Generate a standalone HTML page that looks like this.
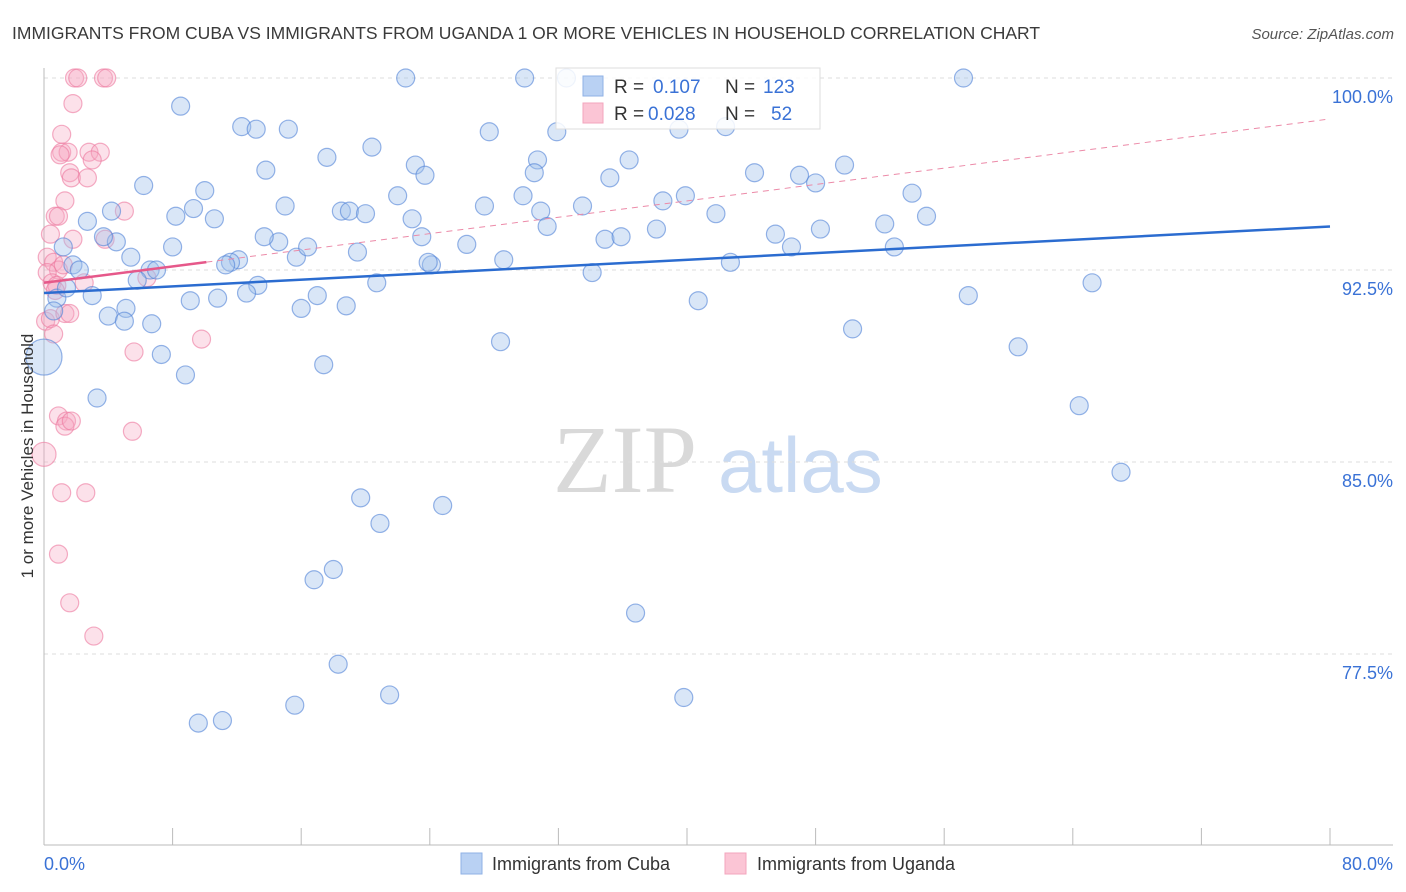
<!DOCTYPE html>
<html><head><meta charset="utf-8">
<style>
body{margin:0;background:#fff;font-family:"Liberation Sans",sans-serif;}
svg{display:block}
</style></head>
<body>
<svg id="chart" width="1406" height="892" xmlns="http://www.w3.org/2000/svg">
<text x="12" y="39" font-size="17.5" fill="#3a3a3a">IMMIGRANTS FROM CUBA VS IMMIGRANTS FROM UGANDA 1 OR MORE VEHICLES IN HOUSEHOLD CORRELATION CHART</text>
<text x="1394" y="39" font-size="15" fill="#555" font-style="italic" text-anchor="end">Source: ZipAtlas.com</text>
<g>
<text x="553" y="492" font-family="Liberation Serif,serif" font-size="96" fill="#d9d9d9">ZIP</text>
<text x="718" y="492" font-size="78" fill="#c9daf2">atlas</text>
</g>
<g id="grid"></g>
<g id="axes"></g>
<g id="pinkpts"></g>
<g id="bluepts"></g>
<g id="lines"></g>
<text transform="translate(33,456) rotate(-90)" font-size="17" fill="#333" text-anchor="middle">1 or more Vehicles in Household</text>
<g>
<rect x="556" y="68" width="264" height="61" fill="#fff" fill-opacity="0.85" stroke="#ddd"/>
<rect x="583" y="76" width="20" height="20" fill="#b9d1f3" stroke="#8fb1e6"/>
<rect x="583" y="103" width="20" height="20" fill="#fbc5d5" stroke="#f3a5bd"/>
<text x="614" y="93" font-size="19" fill="#333">R = </text><text x="653" y="93" font-size="19" fill="#3a72d6">0.107</text>
<text x="725" y="93" font-size="19" fill="#333">N = </text><text x="763" y="93" font-size="19" fill="#3a72d6">123</text>
<text x="614" y="120" font-size="19" fill="#333">R = </text><text x="648" y="120" font-size="19" fill="#3a72d6">0.028</text>
<text x="725" y="120" font-size="19" fill="#333">N = </text><text x="771" y="120" font-size="19" fill="#3a72d6">52</text>
</g>
<g>
<rect x="461" y="853" width="21" height="21" fill="#b9d1f3" stroke="#8fb1e6"/>
<text x="492" y="870" font-size="18" fill="#333">Immigrants from Cuba</text>
<rect x="725" y="853" width="21" height="21" fill="#fbc5d5" stroke="#f3a5bd"/>
<text x="757" y="870" font-size="18" fill="#333">Immigrants from Uganda</text>
</g>
</svg>
<script>
const yTicks=[100,92.5,85,77.5];
const yTickLabels=["100.0%","92.5%","85.0%","77.5%"];
const xTickLabels=["0.0%","80.0%"];
const blueX=[8.5,12.3,13.2,15.2,22.5,29.9,32.5,57.2,27.7,31.9,39.5,42.4,20.4,17.6,23.1,23.7,30.7,30.5,36.4,35.2,44.2,47.0,49.8,48.0,13.8,6.2,10.0,9.3,8.2,10.6,4.2,2.7,15.0,18.5,19.0,20.0,22.0,22.9,27.4,29.8,30.9,31.3,33.5,38.5,39.9,41.8,54.0,54.9,52.3,48.3,45.5,46.5,52.9,38.1,34.9,35.9,26.3,23.5,19.5,15.7,16.4,14.6,13.7,12.1,11.6,11.3,8.0,4.5,3.7,1.2,1.8,2.2,5.4,6.6,7.0,5.8,13.3,28.6,34.1,24.1,23.9,42.7,20.7,17.0,16.0,18.8,12.6,10.8,9.1,5.1,4.0,5.0,6.7,3.0,0.8,1.4,0.6,28.4,50.3,57.5,65.2,40.7,17.4,7.3,8.8,60.6,3.3,64.4,67.0,19.7,24.8,20.9,18.0,16.8,36.8,18.3,21.5,39.8,15.6,11.1,9.6,0.0];
const blueY=[98.9,98.1,98.0,98.0,100,100,100,100,97.9,97.9,98.0,98.1,97.3,96.9,96.6,96.2,96.8,96.3,96.8,96.1,96.3,96.2,96.6,95.9,96.4,95.8,95.6,94.9,94.6,94.5,94.8,94.4,95.0,94.8,94.8,94.7,95.4,94.5,95.0,95.4,94.8,94.2,95.0,95.2,95.4,94.7,95.5,94.6,94.3,94.1,93.9,93.4,93.4,94.1,93.7,93.8,93.5,93.8,93.2,93.0,93.4,93.6,93.8,92.9,92.8,92.7,93.4,93.6,93.8,93.4,92.7,92.5,93.0,92.5,92.5,92.1,91.9,92.9,92.4,92.7,92.8,92.8,92.0,91.5,91.0,91.1,91.6,91.4,91.3,91.0,90.7,90.5,90.4,91.5,91.4,91.8,90.9,89.7,90.2,91.5,92.0,91.3,88.8,89.2,88.4,89.5,87.5,87.2,84.6,83.6,83.3,82.6,80.8,80.4,79.1,77.1,75.9,75.8,75.5,74.9,74.8,89.1];
const blueSize=blueX.map((v,i)=>i===blueX.length-1?18:9);
const pinkX=[1.9,2.1,3.7,3.9,1.8,1.1,1.1,1.5,1.0,2.8,3.5,3.0,1.6,1.7,2.7,1.3,0.7,0.9,5.0,0.4,1.8,3.8,0.2,0.6,0.9,0.2,1.2,0.5,0.8,2.5,6.4,0.7,0.1,0.4,1.3,1.6,0.6,5.6,9.8,0.9,1.4,1.3,1.7,5.5,0.0,1.1,2.6,0.9,1.6,3.1];
const pinkY=[100,100,100,100,99.0,97.8,97.1,97.1,97.0,97.1,97.1,96.8,96.3,96.1,96.1,95.2,94.6,94.6,94.8,93.9,93.7,93.7,93.0,92.8,92.5,92.4,92.7,92.0,91.9,92.0,92.2,91.7,90.5,90.6,90.8,90.8,90.0,89.3,89.8,86.8,86.6,86.4,86.6,86.2,85.3,83.8,83.8,81.4,79.5,78.2];
const pinkSize=pinkX.map((v,i)=>i===44?12:9);
const blueTrend=[91.6,94.2];
const pinkTrend=[92.0,98.4];
const pinkSolidEnd=10.1;

const NS="http://www.w3.org/2000/svg";
const X0=44,X1=1330,Y100=78,PXPER=192/7.5;
const xs=v=>X0+v/80*(X1-X0);
const ys=v=>Y100+(100-v)*PXPER;
function mk(tag,attrs,parent){const e=document.createElementNS(NS,tag);for(const k in attrs)e.setAttribute(k,attrs[k]);parent.appendChild(e);return e;}
const grid=document.getElementById('grid'),axes=document.getElementById('axes');
yTicks.forEach((t,i)=>{
 const l=mk('line',{x1:X0,x2:1393,y1:ys(t),y2:ys(t),stroke:'#ddd','stroke-dasharray':'4,4'},grid);
 
 
 const tx=mk('text',{x:1393,y:ys(t)+25,'font-size':18,fill:'#3a72d6','text-anchor':'end'},axes);
 tx.textContent=yTickLabels[i];
 
 
});
const ya=mk('line',{x1:X0,x2:X0,y1:68,y2:845,stroke:'#bbb'},axes);


const xa=mk('line',{x1:X0,x2:1393,y1:845,y2:845,stroke:'#bbb'},axes);


for(let i=0;i<=10;i++){
 const t=mk('line',{x1:xs(i*8),x2:xs(i*8),y1:828,y2:845,stroke:'#bbb'},axes);
 
 
}
const xl0=mk('text',{x:44,y:870,'font-size':18,fill:'#3a72d6'},axes);xl0.textContent=xTickLabels[0];


const xl1=mk('text',{x:1393,y:870,'font-size':18,fill:'#3a72d6','text-anchor':'end'},axes);xl1.textContent=xTickLabels[1];


const bp=document.getElementById('bluepts'),pp=document.getElementById('pinkpts');
pinkX.forEach((v,i)=>{
 const c=mk('circle',{cx:xs(v),cy:ys(pinkY[i]),r:pinkSize[i],fill:'rgba(246,170,196,0.35)',stroke:'rgba(236,120,158,0.6)','stroke-width':1.2},pp);
 
 
});
blueX.forEach((v,i)=>{
 const c=mk('circle',{cx:xs(v),cy:ys(blueY[i]),r:blueSize[i],fill:'rgba(160,192,236,0.4)',stroke:'rgba(80,130,215,0.6)','stroke-width':1.2},bp);
 
 
});
const ln=document.getElementById('lines');
const pinkAt=v=>pinkTrend[0]+(pinkTrend[1]-pinkTrend[0])*v/80;
const pd=mk('line',{x1:xs(pinkSolidEnd),y1:ys(pinkAt(pinkSolidEnd)),x2:xs(80),y2:ys(pinkTrend[1]),stroke:'#ec8aa8','stroke-width':1,'stroke-dasharray':'6,5'},ln);


const ps=mk('line',{x1:xs(0),y1:ys(pinkTrend[0]),x2:xs(pinkSolidEnd),y2:ys(pinkAt(pinkSolidEnd)),stroke:'#e6588a','stroke-width':2.5},ln);


const bl=mk('line',{x1:xs(0),y1:ys(blueTrend[0]),x2:xs(80),y2:ys(blueTrend[1]),stroke:'#2b6cd0','stroke-width':2.5},ln);


</script>
</body></html>
